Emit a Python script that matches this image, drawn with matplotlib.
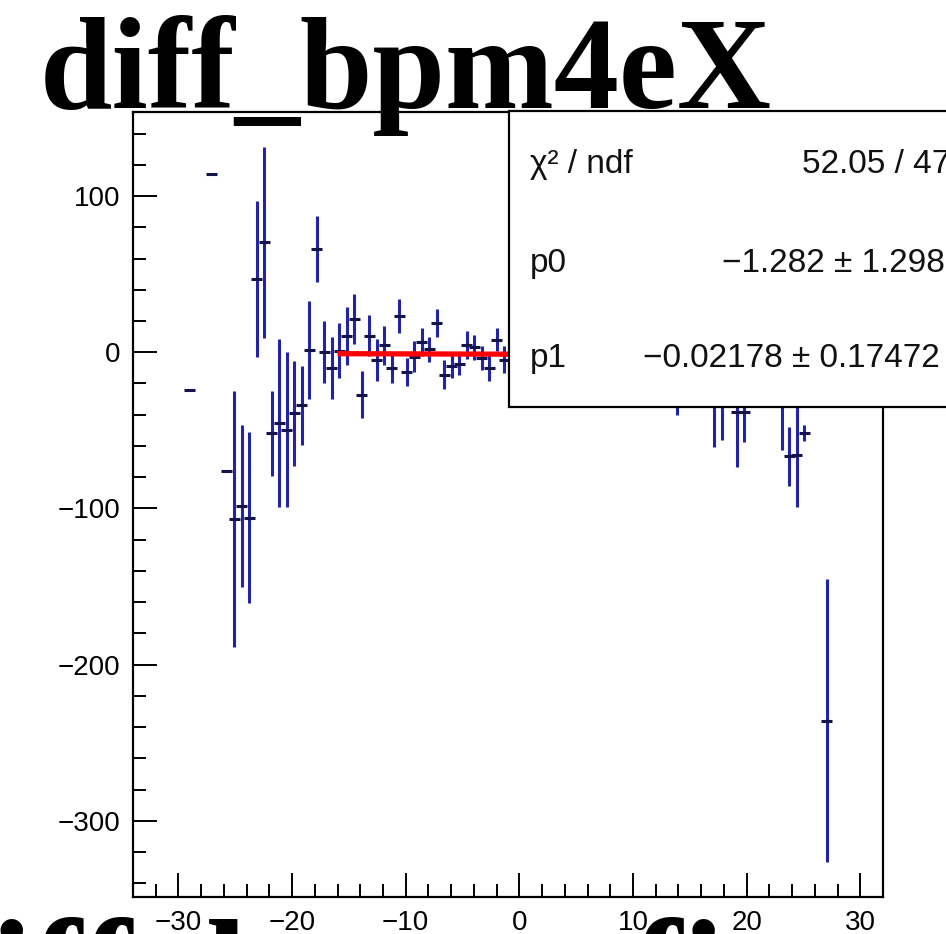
import matplotlib
matplotlib.use("Agg")
import matplotlib.pyplot as plt
from matplotlib.patches import Rectangle
from matplotlib.ticker import MultipleLocator

# bin centres, values and errors
x_vals = [-29.05, -27.07, -25.75, -25.09, -24.43, -23.77, -23.11, -22.45,
          -21.79, -21.13, -20.47, -19.81, -19.15, -18.49, -17.83, -17.17,
          -16.51, -15.85, -15.19, -14.53, -13.87, -13.21, -12.55, -11.89,
          -11.23, -10.57, -9.91, -9.25, -8.59, -7.93, -7.27, -6.61, -5.95,
          -5.29, -4.63, -3.97, -3.31, -2.65, -1.99, -1.33,
          13.85, 17.15, 17.81, 19.13, 19.79, 23.09, 23.75, 24.41, 25.07, 27.05]
y_vals = [-24.5, 113.8, -76.0, -107.0, -98.3, -106.1, 47.1, 70.3,
          -52.0, -45.3, -49.5, -39.1, -34.0, 1.3, 65.9, 0.3,
          -10.0, 1.1, 10.5, 21.5, -27.2, 10.7, -5.1, 4.5,
          -10.4, 23.2, -12.8, -3.0, 6.4, 2.0, 18.7, -14.4, -9.1,
          -7.4, 4.5, 3.2, -4.0, -10.1, 8.0, -4.8,
          -20.0, -25.0, -20.0, -38.0, -38.0, -30.0, -66.7, -65.7, -51.8, -236.0]
y_errs = [0.0, 0.0, 0.0, 82.0, 51.8, 54.7, 49.9, 61.2,
          27.2, 53.6, 49.4, 33.7, 25.3, 31.3, 21.2, 20.0,
          20.0, 17.6, 18.5, 16.0, 15.0, 13.4, 13.6, 12.5,
          9.4, 10.9, 9.1, 9.9, 9.1, 8.0, 9.0, 9.2, 7.5,
          7.0, 8.9, 8.0, 7.7, 8.5, 7.5, 8.5,
          20.0, 35.8, 36.1, 35.2, 19.8, 32.9, 18.7, 33.1, 5.3, 90.5]
x_half = 0.47

fit_p0 = -1.282
fit_p1 = -0.02178
fit_range = (-16.0, 16.0)

stat_names = ["χ² / ndf", "p0", "p1"]
stat_values = ["52.05 / 47", "−1.282 ± 1.298", "−0.02178 ± 0.17472"]

title = "diff_bpm4eX"
# only the tops of this one show at the bottom edge, letters partly guessed
bottom_title = "diff_beam_fit"

W, H = 946, 934
fig = plt.figure(figsize=(W / 100, H / 100), dpi=100)
ax = fig.add_axes([133 / W, 1 - 897.3 / H, 750 / W, (897.3 - 111.7) / H])

ax.errorbar(x_vals, y_vals, yerr=y_errs, fmt="none", ecolor="#2323a8",
            elinewidth=2.2, capsize=0, zorder=3)
ax.errorbar(x_vals, y_vals, xerr=x_half, fmt="none", ecolor="#14144a",
            elinewidth=2.2, capsize=0, zorder=4)

fx = list(fit_range)
fy = [fit_p0 + fit_p1 * v for v in fx]
ax.plot(fx, fy, color="#ff0000", lw=3.8, zorder=5, solid_capstyle="butt")

ax.set_xlim(-34, 32)
ax.set_ylim(-349, 154)
ax.xaxis.set_major_locator(MultipleLocator(10))
ax.xaxis.set_minor_locator(MultipleLocator(2))
ax.yaxis.set_major_locator(MultipleLocator(100))
ax.yaxis.set_minor_locator(MultipleLocator(20))
ax.tick_params(which="both", direction="in", top=False, right=False,
               width=1.4, color="black", labelsize=20, pad=9)
ax.tick_params(which="major", length=17)
ax.tick_params(which="minor", length=9.5)
for lab in ax.get_xticklabels() + ax.get_yticklabels():
    lab.set_fontfamily("Liberation Sans")
for sp in ax.spines.values():
    sp.set_linewidth(1.6)

# stats box, runs off the right edge like in the source
box = Rectangle((509 / W, 1 - 407 / H), 500 / W, (407 - 111) / H,
                transform=fig.transFigure, facecolor="white",
                edgecolor="black", lw=1.6, zorder=20)
fig.add_artist(box)
rows_y = [172.7, 271.7, 366.7]
value_x = [801.7, 721.7, 642.7]
for name, val, yy, vx in zip(stat_names, stat_values, rows_y, value_x):
    fig.text(530 / W, 1 - yy / H, name, fontsize=24, va="baseline",
             ha="left", family="Liberation Sans", color="#111111", zorder=21)
    fig.text(vx / W, 1 - yy / H, val, fontsize=24, va="baseline",
             ha="left", family="Liberation Sans", color="#111111", zorder=21)

fig.text(40 / W, 1 - 108 / H, title, fontsize=94, weight="bold",
         family="Liberation Serif", va="baseline", ha="left", zorder=30)
fig.text(-92 / W, 1 - 1024 / H, bottom_title, fontsize=108, weight="bold",
         family="Liberation Serif", va="baseline", ha="left", zorder=30)

fig.savefig("out.png", dpi=100)
